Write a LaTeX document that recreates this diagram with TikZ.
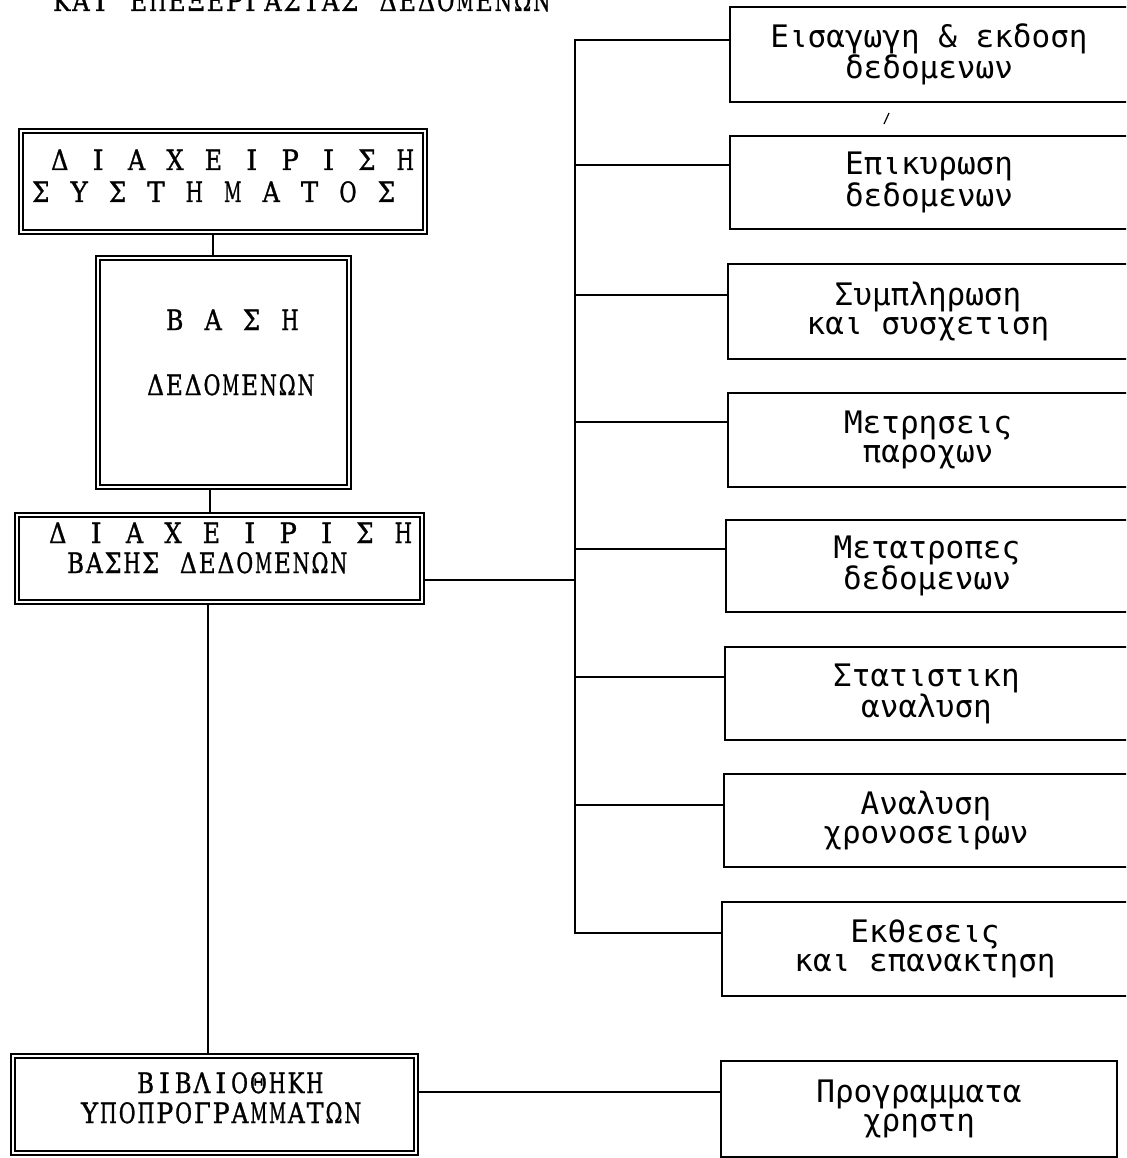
\documentclass[tikz,border=0pt]{standalone}
\usepackage{fontspec}
\usepackage{graphicx}
\newfontfamily\lserif[FakeBold=1.2]{DejaVu Serif}
\newfontfamily\rmono{DejaVu Sans Mono}
\newlength\cellw
\newsavebox\cellbox
\makeatletter
\newcommand\cells[2]{\setlength\cellw{#1}\cells@aux#2\relax}
\def\cells@aux#1{\ifx#1\relax\else\cells@one{#1}\expandafter\cells@aux\fi}
\def\cells@one#1{\sbox\cellbox{#1}\ifdim\wd\cellbox>0.9\cellw
  \makebox[\cellw]{\resizebox{0.9\cellw}{\height}{#1}}\else\makebox[\cellw]{#1}\fi}
\makeatother
\tikzset{
  dbox/.style={draw, double, double distance=2.6pt, line width=1.6pt, outer sep=2.9pt, inner sep=0pt},
  sbox/.style={draw, line width=2pt, inner sep=0pt, outer sep=1pt, align=center,
    font=\rmono\fontsize{31}{29}\selectfont},
  ltext/.style={anchor=base west, inner sep=0pt, font=\lserif\fontsize{28}{28}\selectfont},
  wire/.style={line width=2.4pt},
}
\begin{document}
\begin{tikzpicture}[x=1pt,y=-1pt]
\useasboundingbox (0,0) rectangle (1126,1158);
\clip (0,0) rectangle (1126,1158);
\fill[white] (0,0) rectangle (1126,1158);

% title (cut off at top)
\node[ltext] (title) at (52,11) {\cells{19.2pt}{ΚΑΙ~ΕΠΕΞΕΡΓΑΣΙΑΣ~ΔΕΔΟΜΕΝΩΝ}};

% left double boxes
\node[dbox, minimum width=404pt, minimum height=101pt] (A) at (223,181.5) {};
\node[dbox, minimum width=251pt, minimum height=229pt] (B) at (223.5,372.5) {};
\node[dbox, minimum width=405pt, minimum height=87pt] (C) at (219.5,558.5) {};
\node[dbox, minimum width=403pt, minimum height=97pt] (D) at (214.5,1104.5) {};

\node[ltext] (A1) at (50,170) {\cells{19.2pt}{Δ~Ι~Α~Χ~Ε~Ι~Ρ~Ι~Σ~Η}};
\node[ltext] (A2) at (31,202) {\cells{19.2pt}{Σ~Υ~Σ~Τ~Η~Μ~Α~Τ~Ο~Σ}};
\node[ltext] (B1) at (165,330) {\cells{19.2pt}{Β~Α~Σ~Η}};
\node[ltext] (B2) at (146,395) {\cells{18.8pt}{ΔΕΔΟΜΕΝΩΝ}};
\node[ltext] (C1) at (48,543) {\cells{19.2pt}{Δ~Ι~Α~Χ~Ε~Ι~Ρ~Ι~Σ~Η}};
\node[ltext] (C2) at (66,573) {\cells{18.8pt}{ΒΑΣΗΣ~ΔΕΔΟΜΕΝΩΝ}};
\node[ltext] (D1) at (136,1093) {\cells{18.8pt}{ΒΙΒΛΙΟΘΗΚΗ}};
\node[ltext] (D2) at (80,1123) {\cells{18.8pt}{ΥΠΟΠΡΟΓΡΑΜΜΑΤΩΝ}};

% right boxes
\node[sbox, minimum width=398pt, minimum height=95pt] (R1) at (929,54.5) {Εισαγωγη \& εκδοση\\δεδομενων};
\node[sbox, minimum width=398pt, minimum height=93pt] (R2) at (929,182.5) {Επικυρωση\\δεδομενων};
\node[sbox, minimum width=400pt, minimum height=95pt] (R3) at (928,311.5) {Συμπληρωση\\και συσχετιση};
\node[sbox, minimum width=400pt, minimum height=94pt] (R4) at (928,440) {Μετρησεις\\παροχων};
\node[sbox, minimum width=402pt, minimum height=92pt] (R5) at (927,566) {Μετατροπες\\δεδομενων};
\node[sbox, minimum width=403pt, minimum height=93pt] (R6) at (926.5,693.5) {Στατιστικη\\αναλυση};
\node[sbox, minimum width=404pt, minimum height=93pt] (R7) at (926,820.5) {Αναλυση\\χρονοσειρων};
\node[sbox, minimum width=406pt, minimum height=94pt] (R8) at (925,949) {Εκθεσεις\\και επανακτηση};
\node[sbox, minimum width=396pt, minimum height=96pt] (R9) at (919,1109) {Προγραμματα\\χρηστη};

% connectors between left boxes
\coordinate (ab) at (213,0);
\coordinate (bc) at (210,0);
\coordinate (cd) at (208,0);
\draw[wire] (A.south -| ab) -- (B.north -| ab);
\draw[wire] (B.south -| bc) -- (C.north -| bc);
\draw[wire] (C.south -| cd) -- (D.north -| cd);

% bus
\coordinate (j1) at (575,40);
\coordinate (j2) at (575,165);
\coordinate (j3) at (575,295);
\coordinate (j4) at (575,422);
\coordinate (j5) at (575,549);
\coordinate (j6) at (575,677);
\coordinate (j7) at (575,805);
\coordinate (j8) at (575,933);
\coordinate (jc) at (575,580);
\draw[wire, line join=miter] (j1 -| R1.west) -- (j1) -- (j8) -- (j8 -| R8.west);
\foreach \i in {2,...,7} {
  \draw[wire] (j\i) -- (j\i -| R\i.west);
}
\draw[wire] (C.east |- jc) -- (jc);

% library to user programs
\coordinate (dl) at (0,1092);
\draw[wire] (D.east |- dl) -- (R9.west |- dl);

% stray mark
\draw[line width=1.2pt] (884,124) -- (889,113);
\end{tikzpicture}
\end{document}
